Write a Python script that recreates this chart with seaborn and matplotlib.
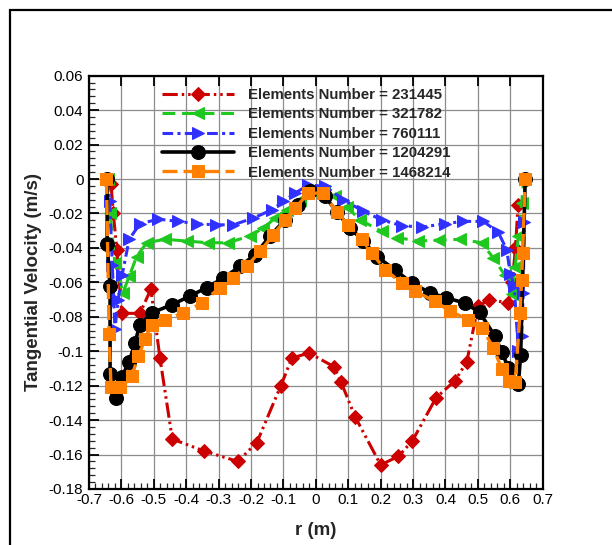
import matplotlib
matplotlib.use("Agg")
import matplotlib.pyplot as plt
from matplotlib.patches import Rectangle
from matplotlib.ticker import MultipleLocator, FixedLocator
import seaborn as sns
import numpy as np
import pandas as pd

# ---------------- data ----------------
labels = ["Elements Number = 231445", "Elements Number = 321782",
          "Elements Number = 760111", "Elements Number = 1204291",
          "Elements Number = 1468214"]

r_red = [-0.632, -0.625, -0.614, -0.599, -0.543, -0.509, -0.481, -0.443, -0.344, -0.241,
         -0.182, -0.108, -0.074, -0.021, 0.056, 0.078, 0.121, 0.200, 0.255, 0.298,
         0.371, 0.430, 0.466, 0.500, 0.535, 0.594, 0.606, 0.616, 0.624]
v_red = [-0.003, -0.020, -0.041, -0.078, -0.078, -0.064, -0.104, -0.151, -0.158, -0.164,
         -0.153, -0.120, -0.104, -0.101, -0.109, -0.118, -0.138, -0.166, -0.161, -0.152,
         -0.127, -0.117, -0.106, -0.074, -0.070, -0.072, -0.060, -0.040, -0.015]

r_green = [-0.642, -0.635, -0.620, -0.595, -0.576, -0.553, -0.522, -0.466, -0.399, -0.334,
           -0.270, -0.203, -0.162, -0.126, -0.090, -0.049, -0.013, 0.025, 0.060, 0.095,
           0.136, 0.203, 0.250, 0.316, 0.380, 0.445, 0.512, 0.548, 0.584, 0.605,
           0.615, 0.625, 0.635, 0.642]
v_green = [0.0, -0.020, -0.049, -0.066, -0.0565, -0.045, -0.037, -0.035, -0.036, -0.037,
           -0.037, -0.033, -0.0285, -0.0227, -0.018, -0.012, -0.0072, -0.007, -0.010, -0.016,
           -0.0237, -0.0304, -0.034, -0.036, -0.0355, -0.035, -0.037, -0.046, -0.056, -0.067,
           -0.051, -0.033, -0.014, 0.0]

r_blue = [-0.642, -0.636, -0.628, -0.620, -0.610, -0.598, -0.576, -0.543, -0.486, -0.424,
          -0.367, -0.308, -0.255, -0.193, -0.136, -0.100, -0.064, -0.023, 0.028, 0.085,
          0.147, 0.203, 0.265, 0.327, 0.397, 0.455, 0.517, 0.563, 0.589, 0.600,
          0.612, 0.625, 0.635, 0.640, 0.643, 0.646]
v_blue = [0.0, -0.013, -0.050, -0.087, -0.070, -0.056, -0.035, -0.026, -0.0233, -0.0246,
          -0.026, -0.0266, -0.0266, -0.0227, -0.0179, -0.013, -0.0082, -0.0034, -0.0043, -0.012,
          -0.0188, -0.0237, -0.0271, -0.0279, -0.026, -0.0246, -0.0246, -0.031, -0.041, -0.055,
          -0.062, -0.100, -0.091, -0.066, -0.025, 0.0]

r_black = [-0.644, -0.644, -0.635, -0.635, -0.617, -0.599, -0.576, -0.558, -0.543, -0.507,
           -0.445, -0.388, -0.337, -0.285, -0.234, -0.188, -0.141, -0.095, -0.054, -0.018,
           0.028, 0.064, 0.106, 0.147, 0.188, 0.244, 0.296, 0.352, 0.402, 0.460,
           0.505, 0.553, 0.574, 0.594, 0.625, 0.632, 0.646]
v_black = [0.0, -0.038, -0.062, -0.1135, -0.127, -0.115, -0.106, -0.095, -0.0845, -0.0778,
           -0.073, -0.068, -0.063, -0.0575, -0.0507, -0.044, -0.033, -0.0237, -0.015, -0.007,
           -0.010, -0.019, -0.0285, -0.036, -0.045, -0.0527, -0.0604, -0.066, -0.069, -0.072,
           -0.0774, -0.0913, -0.1006, -0.1096, -0.119, -0.102, 0.0]

r_orange = [-0.646, -0.638, -0.632, -0.604, -0.568, -0.548, -0.527, -0.507, -0.465, -0.409,
            -0.352, -0.296, -0.255, -0.213, -0.172, -0.131, -0.095, -0.064, -0.023, 0.023,
            0.064, 0.100, 0.142, 0.173, 0.214, 0.265, 0.306, 0.368, 0.414, 0.471,
            0.512, 0.548, 0.574, 0.597, 0.615, 0.630, 0.635, 0.638, 0.646]
v_orange = [0.0, -0.090, -0.121, -0.121, -0.1145, -0.103, -0.093, -0.0845, -0.0816, -0.0777,
            -0.072, -0.063, -0.0575, -0.0507, -0.042, -0.0324, -0.0237, -0.0169, -0.0082, -0.0082,
            -0.019, -0.0266, -0.035, -0.043, -0.0527, -0.0604, -0.0652, -0.071, -0.0768, -0.0816,
            -0.0864, -0.098, -0.1106, -0.1174, -0.118, -0.0777, -0.0584, -0.043, 0.0]

x_ticks = [-0.7, -0.6, -0.5, -0.4, -0.3, -0.2, -0.1, 0.0, 0.1, 0.2, 0.3, 0.4, 0.5, 0.6, 0.7]
x_tick_labels = ["-0.7", "-0.6", "-0.5", "-0.4", "-0.3", "-0.2", "-0.1", "0",
                 "0.1", "0.2", "0.3", "0.4", "0.5", "0.6", "0.7"]
y_ticks = [-0.18, -0.16, -0.14, -0.12, -0.10, -0.08, -0.06, -0.04, -0.02, 0.0, 0.02, 0.04, 0.06]
y_tick_labels = ["-0.18", "-0.16", "-0.14", "-0.12", "-0.1", "-0.08", "-0.06", "-0.04",
                 "-0.02", "0", "0.02", "0.04", "0.06"]

# ---------------- style ----------------
sns.set_style("white")
plt.rcParams["font.family"] = ["Liberation Sans", "DejaVu Sans"]

fig = plt.figure(figsize=(6.12, 5.45), dpi=100)
L, R, T, B = 89, 542.7, 75.7, 489
ax = fig.add_axes([L / 612, 1 - B / 545, (R - L) / 612, (B - T) / 545])

series = [
    (r_red, v_red, "#cc0000", "D", 7, (5.0, 1.3, 0.8, 1.3, 0.8, 1.3), 2.2),
    (r_green, v_green, "#1ec81e", "<", 9, (4.2, 2.2), 2.2),
    (r_blue, v_blue, "#3030ff", ">", 9, (3.5, 1.4, 1.0, 1.4), 2.2),
    (r_black, v_black, "#000000", "o", 10, None, 2.6),
    (r_orange, v_orange, "#ff8000", "s", 8.5, (4.5, 1.8), 2.4),
]

for (rr, vv, col, mk, ms, dash, lw), lab in zip(series, labels):
    df = pd.DataFrame({"r": rr, "v": vv})
    sns.lineplot(data=df, x="r", y="v", ax=ax, color=col, marker=mk, markersize=ms,
                 markeredgecolor=col, markerfacecolor=col, linewidth=lw, label=lab,
                 sort=False, estimator=None)
    ln = ax.get_lines()[-1]
    if dash is not None:
        ln.set_dashes(dash)
    else:
        ln.set_linestyle("-")

ax.set_xlim(-0.7, 0.7)
ax.set_ylim(-0.18, 0.06)
ax.xaxis.set_major_locator(FixedLocator(x_ticks))
ax.set_xticklabels(x_tick_labels)
ax.yaxis.set_major_locator(FixedLocator(y_ticks))
ax.set_yticklabels(y_tick_labels)
ax.xaxis.set_minor_locator(MultipleLocator(0.02))
ax.yaxis.set_minor_locator(MultipleLocator(0.004))

ax.grid(True, which="major", color="#8c8c8c", linewidth=0.9)
ax.set_axisbelow(True)

ax.tick_params(axis="both", which="major", direction="in", length=7.5, width=1.3,
               labelsize=11, colors="black", pad=3)
ax.tick_params(axis="both", which="minor", direction="in", length=4.5, width=0.9)
ax.tick_params(axis="x", which="major", top=True, bottom=True, pad=3)
ax.tick_params(axis="y", which="both", left=True, right=False)
ax.tick_params(axis="y", which="major", pad=4)
ax.tick_params(axis="x", which="minor", bottom=True, top=False)

for s in ax.spines.values():
    s.set_linewidth(1.6)
    s.set_color("black")
    s.set_visible(True)

ax.set_xlabel("r (m)", fontsize=13.5, fontweight="bold", labelpad=11)
ax.set_ylabel("Tangential Velocity (m/s)", fontsize=13.5, fontweight="bold", labelpad=5)

leg = ax.legend(loc="upper left", bbox_to_anchor=(0.162, 0.970), frameon=False,
                borderpad=0, borderaxespad=0, handlelength=4.8, handletextpad=0.9,
                labelspacing=0.36,
                prop={"family": ["Liberation Sans"], "weight": "bold", "size": 10.8})

# outer frame
fig.add_artist(Rectangle((9.5 / 612, -0.5), 2.0, 1.5 - 9.5 / 545, fill=False,
                         edgecolor="black", linewidth=1.6, transform=fig.transFigure,
                         clip_on=False))

fig.savefig("out.png", dpi=100)
